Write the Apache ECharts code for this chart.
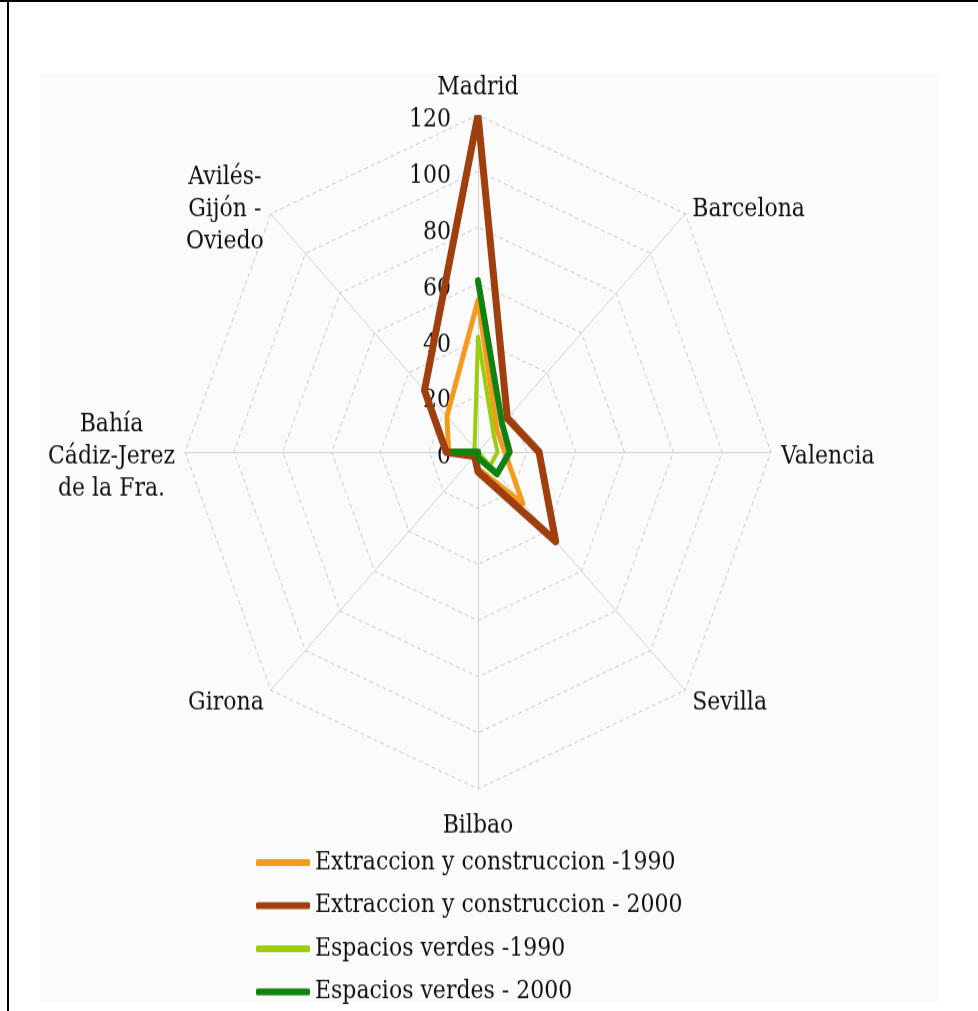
<!DOCTYPE html>
<html>
<head>
<meta charset="utf-8">
<script src="https://cdn.jsdelivr.net/npm/echarts@6/dist/echarts.min.js"></script>
<style>
  html, body { margin: 0; padding: 0; background: #fff; }
  #page { position: absolute; left: 0; top: 0; width: 978px; height: 1011px; overflow: hidden; background: #fff; }
  #plotBg { position: absolute; left: 40px; top: 73px; width: 898px; height: 929px; background: #fbfbfb; }
  /* the figure is drawn taller than wide: the chart is laid out in a shorter box and stretched */
  #chart { position: absolute; left: 0; top: 0; width: 978px; height: 879px; transform: scaleY(1.15); transform-origin: 0 0; }
  #borderTop { position: absolute; left: 0; top: 0; width: 978px; height: 2px; background: #000; }
  #borderLeft { position: absolute; left: 7px; top: 0; width: 2px; height: 1011px; background: #000; }
</style>
</head>
<body>
<div id="page">
  <div id="plotBg"></div>
  <div id="chart"></div>
  <div id="borderTop"></div>
  <div id="borderLeft"></div>
</div>
<script>
// Cities around the radar, clockwise from the top
const cities = ['Madrid', 'Barcelona', 'Valencia', 'Sevilla', 'Bilbao', 'Girona',
  'Bahía\nCádiz-Jerez\nde la Fra.', 'Avilés-\nGijón -\nOviedo'];

// Land cover change per city
const extraccion1990 = [54, 11, 11, 26, 6, 1, 12, 18];
const extraccion2000 = [120, 17, 25, 45, 7, 2, 13, 31];
const verdes1990 = [41, 9, 8, 7, 0, 0, 2, 2];
const verdes2000 = [61, 14, 13, 11, 2, 0, 10, null];

const seriesNames = ['Extraccion y construccion -1990', 'Extraccion y construccion - 2000',
  'Espacios verdes -1990', 'Espacios verdes - 2000'];

const radialTicks = [0, 20, 40, 60, 80, 100, 120];

const FONT = 'DejaVu Serif';
const CENTER = [478, 393];
const RADIUS = 293;
const RMAX = radialTicks[radialTicks.length - 1];

// the radar grid lays its spokes out counter-clockwise, so list them in that order
const gridOrder = [cities[0]].concat(cities.slice(1).reverse());

// each value sits on its city's spoke (clockwise); the first point is repeated to close the loop
function toPolar(values) {
  const step = 360 / cities.length;
  const pts = values.map((v, i) => (v == null ? null : [v, i * step]));
  if (values[0] != null) pts.push([values[0], 360]);
  return pts;
}

function lineSeries(name, values, color, width) {
  return {
    name: name,
    type: 'line',
    coordinateSystem: 'polar',
    data: toPolar(values),
    symbol: 'none',
    clip: false,
    connectNulls: false,
    animation: false,
    itemStyle: { color: color },
    lineStyle: { color: color, width: width, join: 'round', cap: 'round' }
  };
}

const chart = echarts.init(document.getElementById('chart'), null, { renderer: 'canvas' });

chart.setOption({
  backgroundColor: 'transparent',
  animation: false,
  radar: {
    center: CENTER,
    radius: RADIUS,
    startAngle: 90,
    splitNumber: radialTicks.length - 1,
    shape: 'polygon',
    nameGap: 10,
    indicator: gridOrder.map(c => ({ name: c, min: 0, max: RMAX })),
    axisName: {
      color: '#111',
      fontFamily: FONT,
      fontSize: 22,
      lineHeight: 28,
      padding: [8, 0, 0, 0],
      formatter: function (name) {
        return name.split('\n').map(l => '{c|' + l + '}').join('\n');
      },
      rich: { c: { align: 'center', fontFamily: FONT, fontSize: 22, lineHeight: 28, color: '#111' } }
    },
    splitLine: { lineStyle: { color: '#cacaca', type: [4, 3], width: 1 } },
    splitArea: { show: false },
    axisLine: { lineStyle: { color: '#d2d2d2', width: 1 } },
    axisTick: { show: false },
    axisLabel: { show: false }
  },
  polar: { center: CENTER, radius: RADIUS },
  angleAxis: { type: 'value', min: 0, max: 360, startAngle: 90, clockwise: true, show: false },
  radiusAxis: {
    type: 'value',
    min: 0,
    max: RMAX,
    interval: 20,
    axisLine: { show: false },
    axisTick: { show: false },
    splitLine: { show: false },
    axisLabel: {
      color: '#111', fontFamily: FONT, fontSize: 22, margin: 27, verticalAlign: 'middle',
      formatter: v => '{t|' + v + '}',
      rich: { t: { fontFamily: FONT, fontSize: 22, color: '#111', padding: [9, 0, 0, 0] } }
    }
  },
  legend: {
    orient: 'vertical',
    left: 256,
    top: 739,
    icon: 'roundRect',
    itemWidth: 54,
    itemHeight: 6,
    itemGap: 15.5,
    padding: 0,
    data: seriesNames,
    textStyle: { color: '#111', fontFamily: FONT, fontSize: 22, lineHeight: 22 }
  },
  series: [
    lineSeries(seriesNames[0], extraccion1990, '#f59a1e', 5),
    lineSeries(seriesNames[1], extraccion2000, '#a03f0e', 7),
    lineSeries(seriesNames[2], verdes1990, '#9acd0c', 4),
    lineSeries(seriesNames[3], verdes2000, '#10820f', 6)
  ]
});
</script>
</body>
</html>
